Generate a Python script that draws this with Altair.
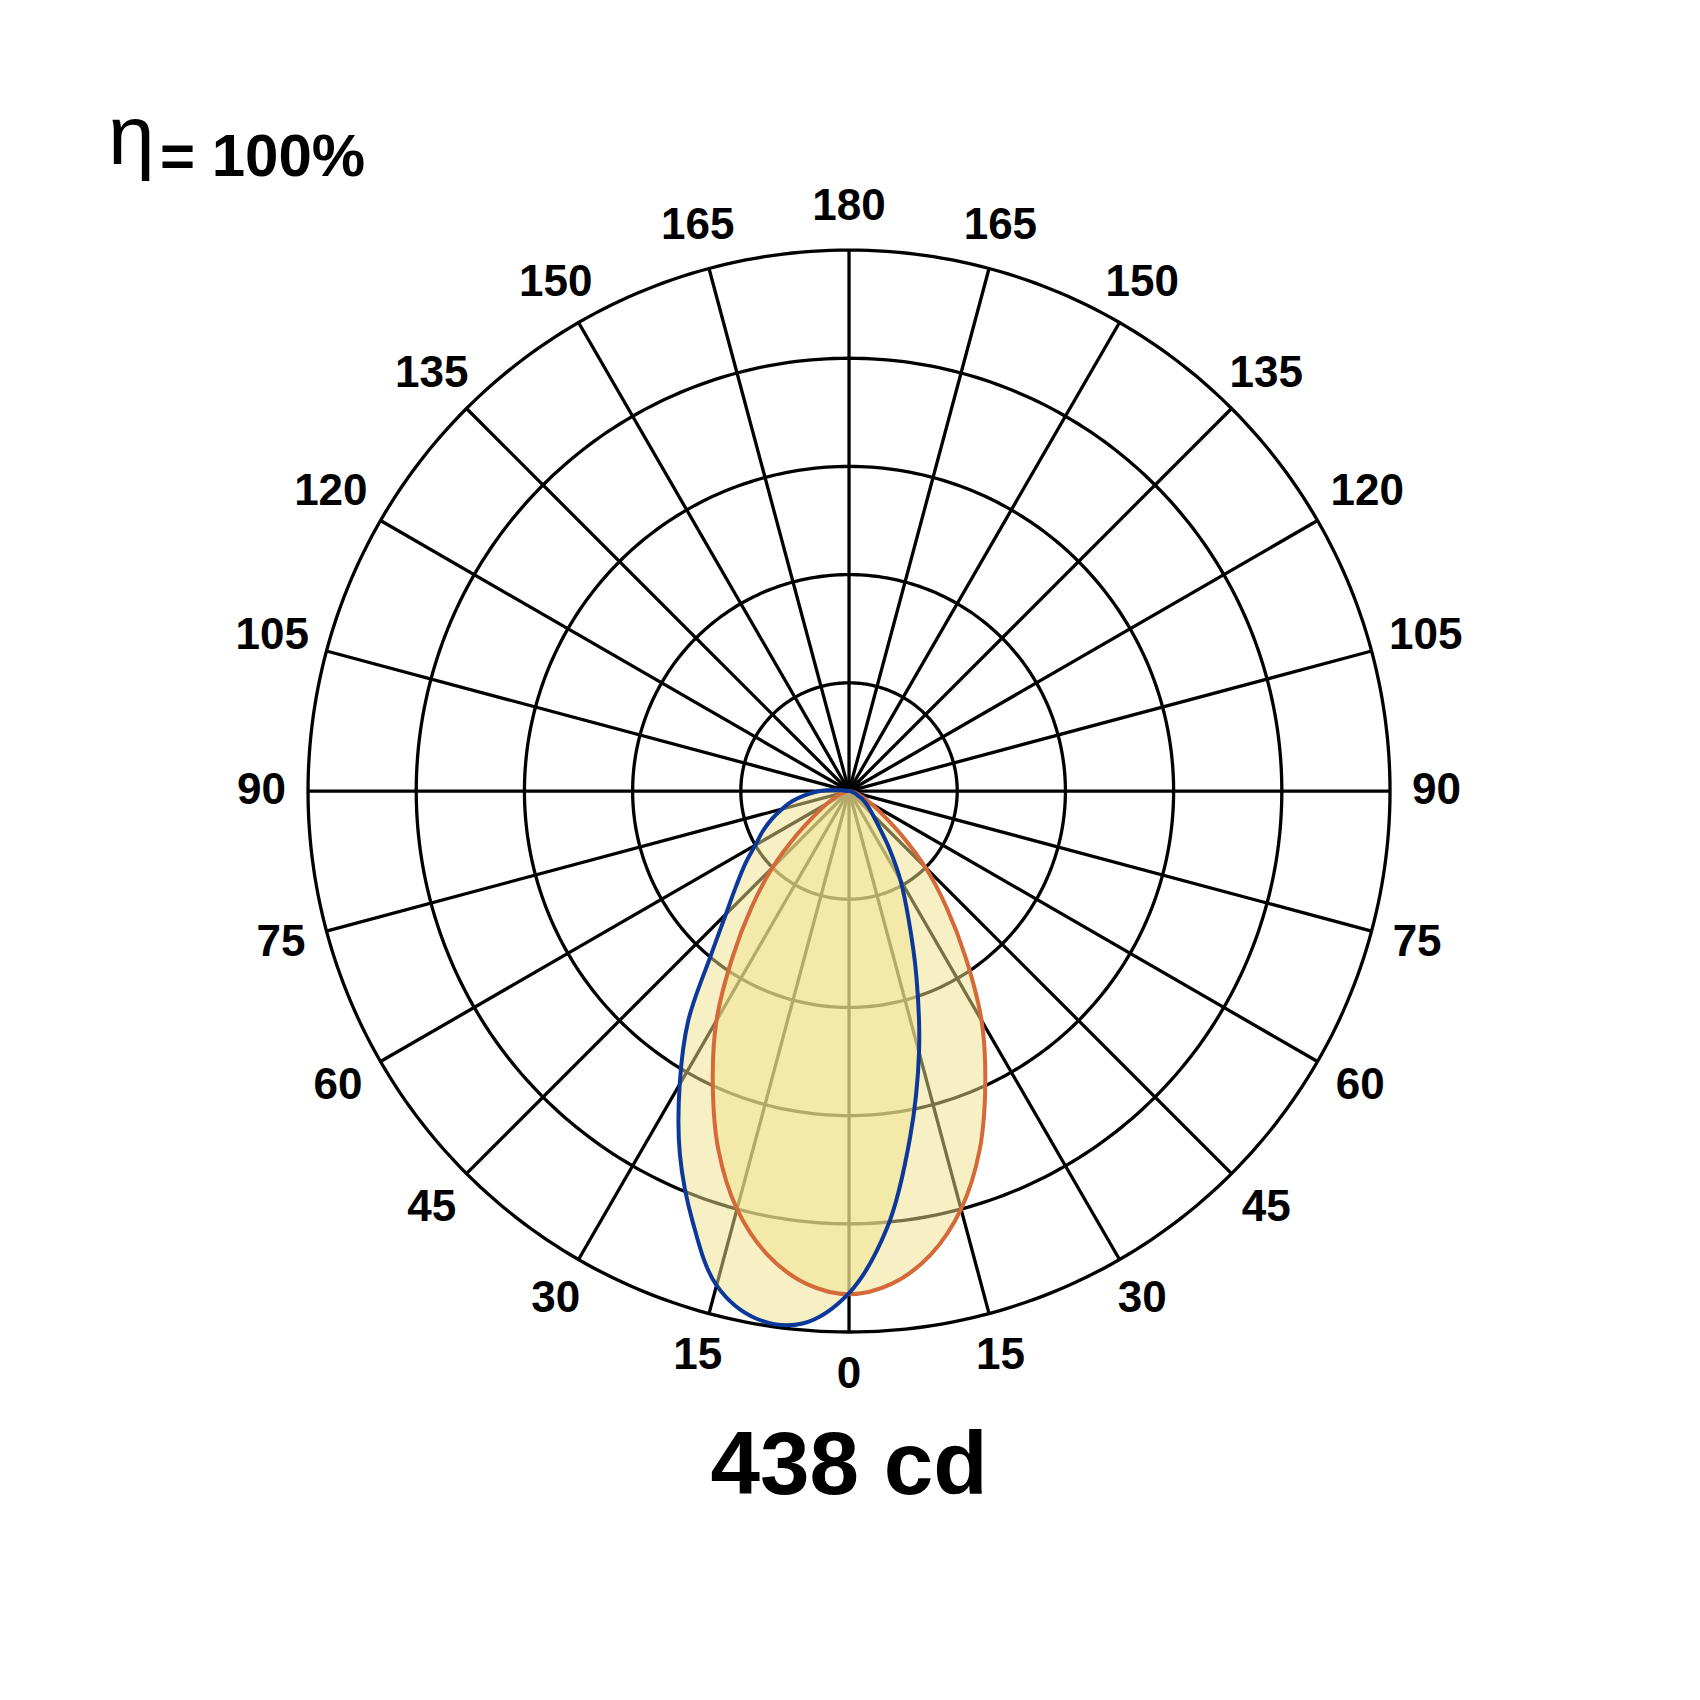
import altair as alt
import numpy as np
import pandas as pd

# ---------------- data ----------------
RING_RADII = [100, 200, 300, 400, 500]
SPOKE_ANGLES = [0, 15, 30, 45, 60, 75, 90, 105, 120, 135, 150, 165,
                180, 195, 210, 225, 240, 255, 270, 285, 300, 315, 330, 345]
LABEL_ANGLES = [-165, -150, -135, -120, -105, -90, -75, -60, -45, -30, -15, 0,
                15, 30, 45, 60, 75, 90, 105, 120, 135, 150, 165, 180]
LABEL_TEXT = ["165", "150", "135", "120", "105", "90", "75", "60", "45", "30", "15", "0",
              "15", "30", "45", "60", "75", "90", "105", "120", "135", "150", "165", "180"]

# orange curve (C0-C180 plane), angle from nadir, signed (left negative)
C0_ANGLES = [-90, -85, -80, -75, -70, -65, -60, -55, -50, -45, -40, -35, -30, -25, -20, -15, -10, -5,
             0, 5, 10, 15, 20, 25, 30, 35, 40, 45, 50, 55, 60, 65, 70, 75, 80, 85, 90]
C0_VALUES = [0, 1, 3, 5, 9, 15, 24, 38, 63, 100, 140, 188, 245, 298, 353, 400, 435, 457,
             465, 457, 435, 400, 353, 298, 245, 188, 140, 100, 63, 38, 24, 15, 9, 5, 3, 1, 0]

# blue curve (C90-C270 plane)
C90_ANGLES = [-100, -95, -90, -85, -80, -75, -70, -65, -60, -55, -50, -45, -40, -35, -30, -25, -20, -15, -10, -5,
              0, 5, 10, 15, 20, 25, 30, 35, 40, 45, 50, 55, 60, 65, 70, 75, 80, 85, 90]
C90_VALUES = [0, 12, 27, 40, 53, 64, 76, 88, 100, 117, 136, 161, 199, 259, 313, 370, 423, 473, 495, 494,
              464, 405, 325, 250, 182, 130, 95, 65, 43, 31, 24, 18, 13, 8, 5, 3, 2, 1, 0]

ETA_TEXT = "η"
EFF_TEXT = "= 100%"
MAX_TEXT = "438 cd"

# ---------------- tables ----------------
ring_theta = np.arange(0, 361, 1)
rings = pd.DataFrame([(r, t, i) for r in RING_RADII for i, t in enumerate(ring_theta)],
                     columns=["r", "theta", "i"])
spokes = pd.DataFrame({"theta": SPOKE_ANGLES, "r": 500})
labels = pd.DataFrame({"theta": LABEL_ANGLES, "label": LABEL_TEXT})
curves = pd.concat([
    pd.DataFrame({"theta": C0_ANGLES, "r": C0_VALUES, "curve": "C0", "i": range(len(C0_ANGLES))}),
    pd.DataFrame({"theta": C90_ANGLES, "r": C90_VALUES, "curve": "C90", "i": range(len(C90_ANGLES))}),
])

X_DOMAIN = [-777.3, 779.1]
Y_DOMAIN = [-832.7, 723.7]


def X(field="x"):
    return alt.X(f"{field}:Q", scale=alt.Scale(domain=X_DOMAIN, nice=False, zero=False), axis=None)


def Y(field="y"):
    return alt.Y(f"{field}:Q", scale=alt.Scale(domain=Y_DOMAIN, nice=False, zero=False), axis=None)


def polar(ch):
    return ch.transform_calculate(
        x="datum.r * sin(datum.theta * PI / 180)",
        y="-datum.r * cos(datum.theta * PI / 180)",
    )


ring_layer = polar(alt.Chart(rings)).mark_line(color="black", strokeWidth=3.3).encode(
    x=X(), y=Y(), detail="r:N", order="i:Q")

spoke_layer = polar(alt.Chart(spokes)).transform_calculate(x0="0", y0="0").mark_rule(
    color="black", strokeWidth=3.3).encode(x=X("x0"), y=Y("y0"), x2="x:Q", y2="y:Q")

fill_layer = polar(alt.Chart(curves)).mark_line(
    fill="#F0E18C", fillOpacity=0.5, strokeOpacity=0, interpolate="catmull-rom"
).encode(x=X(), y=Y(), detail="curve:N", order="i:Q")

stroke_layer = polar(alt.Chart(curves)).mark_line(
    strokeWidth=4.0, interpolate="catmull-rom"
).encode(
    x=X(), y=Y(), order="i:Q",
    color=alt.Color("curve:N", scale=alt.Scale(domain=["C0", "C90"], range=["#D4693A", "#0C389C"]),
                    legend=None),
)

# labels sit just outside the outer ring, with their text box kept at a constant gap
label_layer = alt.Chart(labels).transform_calculate(
    s="abs(sin(datum.theta * PI / 180))",
    c="abs(cos(datum.theta * PI / 180))",
).transform_calculate(
    d="min(datum.s > 0.001 ? length(datum.label) * 8 / datum.s : 1e9,"
      " datum.c > 0.001 ? 13 / datum.c : 1e9)",
).transform_calculate(
    r="527 + datum.d",
).transform_calculate(
    x="datum.r * sin(datum.theta * PI / 180)",
    y="-datum.r * cos(datum.theta * PI / 180)",
).mark_text(
    font="Liberation Sans", fontWeight="bold", fontSize=44, align="center", baseline="middle",
    color="black").encode(x=X(), y=Y(), text="label:N")

annot = pd.DataFrame({
    "x": [-684.8, -636.8, 0.0],
    "y": [579.5, 568.4, -650.0],
    "t": [ETA_TEXT, EFF_TEXT, MAX_TEXT],
    "k": ["eta", "eff", "max"],
})

eta_layer = alt.Chart(annot[annot.k == "eta"]).mark_text(
    font="Liberation Sans", fontSize=84, align="left", baseline="alphabetic", color="black"
).encode(x=X(), y=Y(), text="t:N")
eff_layer = alt.Chart(annot[annot.k == "eff"]).mark_text(
    font="Liberation Sans", fontWeight="bold", fontSize=60, align="left", baseline="alphabetic", color="black"
).encode(x=X(), y=Y(), text="t:N")
max_layer = alt.Chart(annot[annot.k == "max"]).mark_text(
    font="Liberation Sans", fontWeight="bold", fontSize=89, align="center", baseline="alphabetic", color="black"
).encode(x=X(), y=Y(), text="t:N")

chart = alt.layer(
    ring_layer, spoke_layer, fill_layer, stroke_layer, label_layer, eta_layer, eff_layer, max_layer
).properties(
    width=1684, height=1684,
    autosize=alt.AutoSizeParams(type="none"),
    padding=0,
    background="white",
).configure_view(stroke=None)

chart.save("out.html", embed_options={"renderer": "svg", "actions": False})
